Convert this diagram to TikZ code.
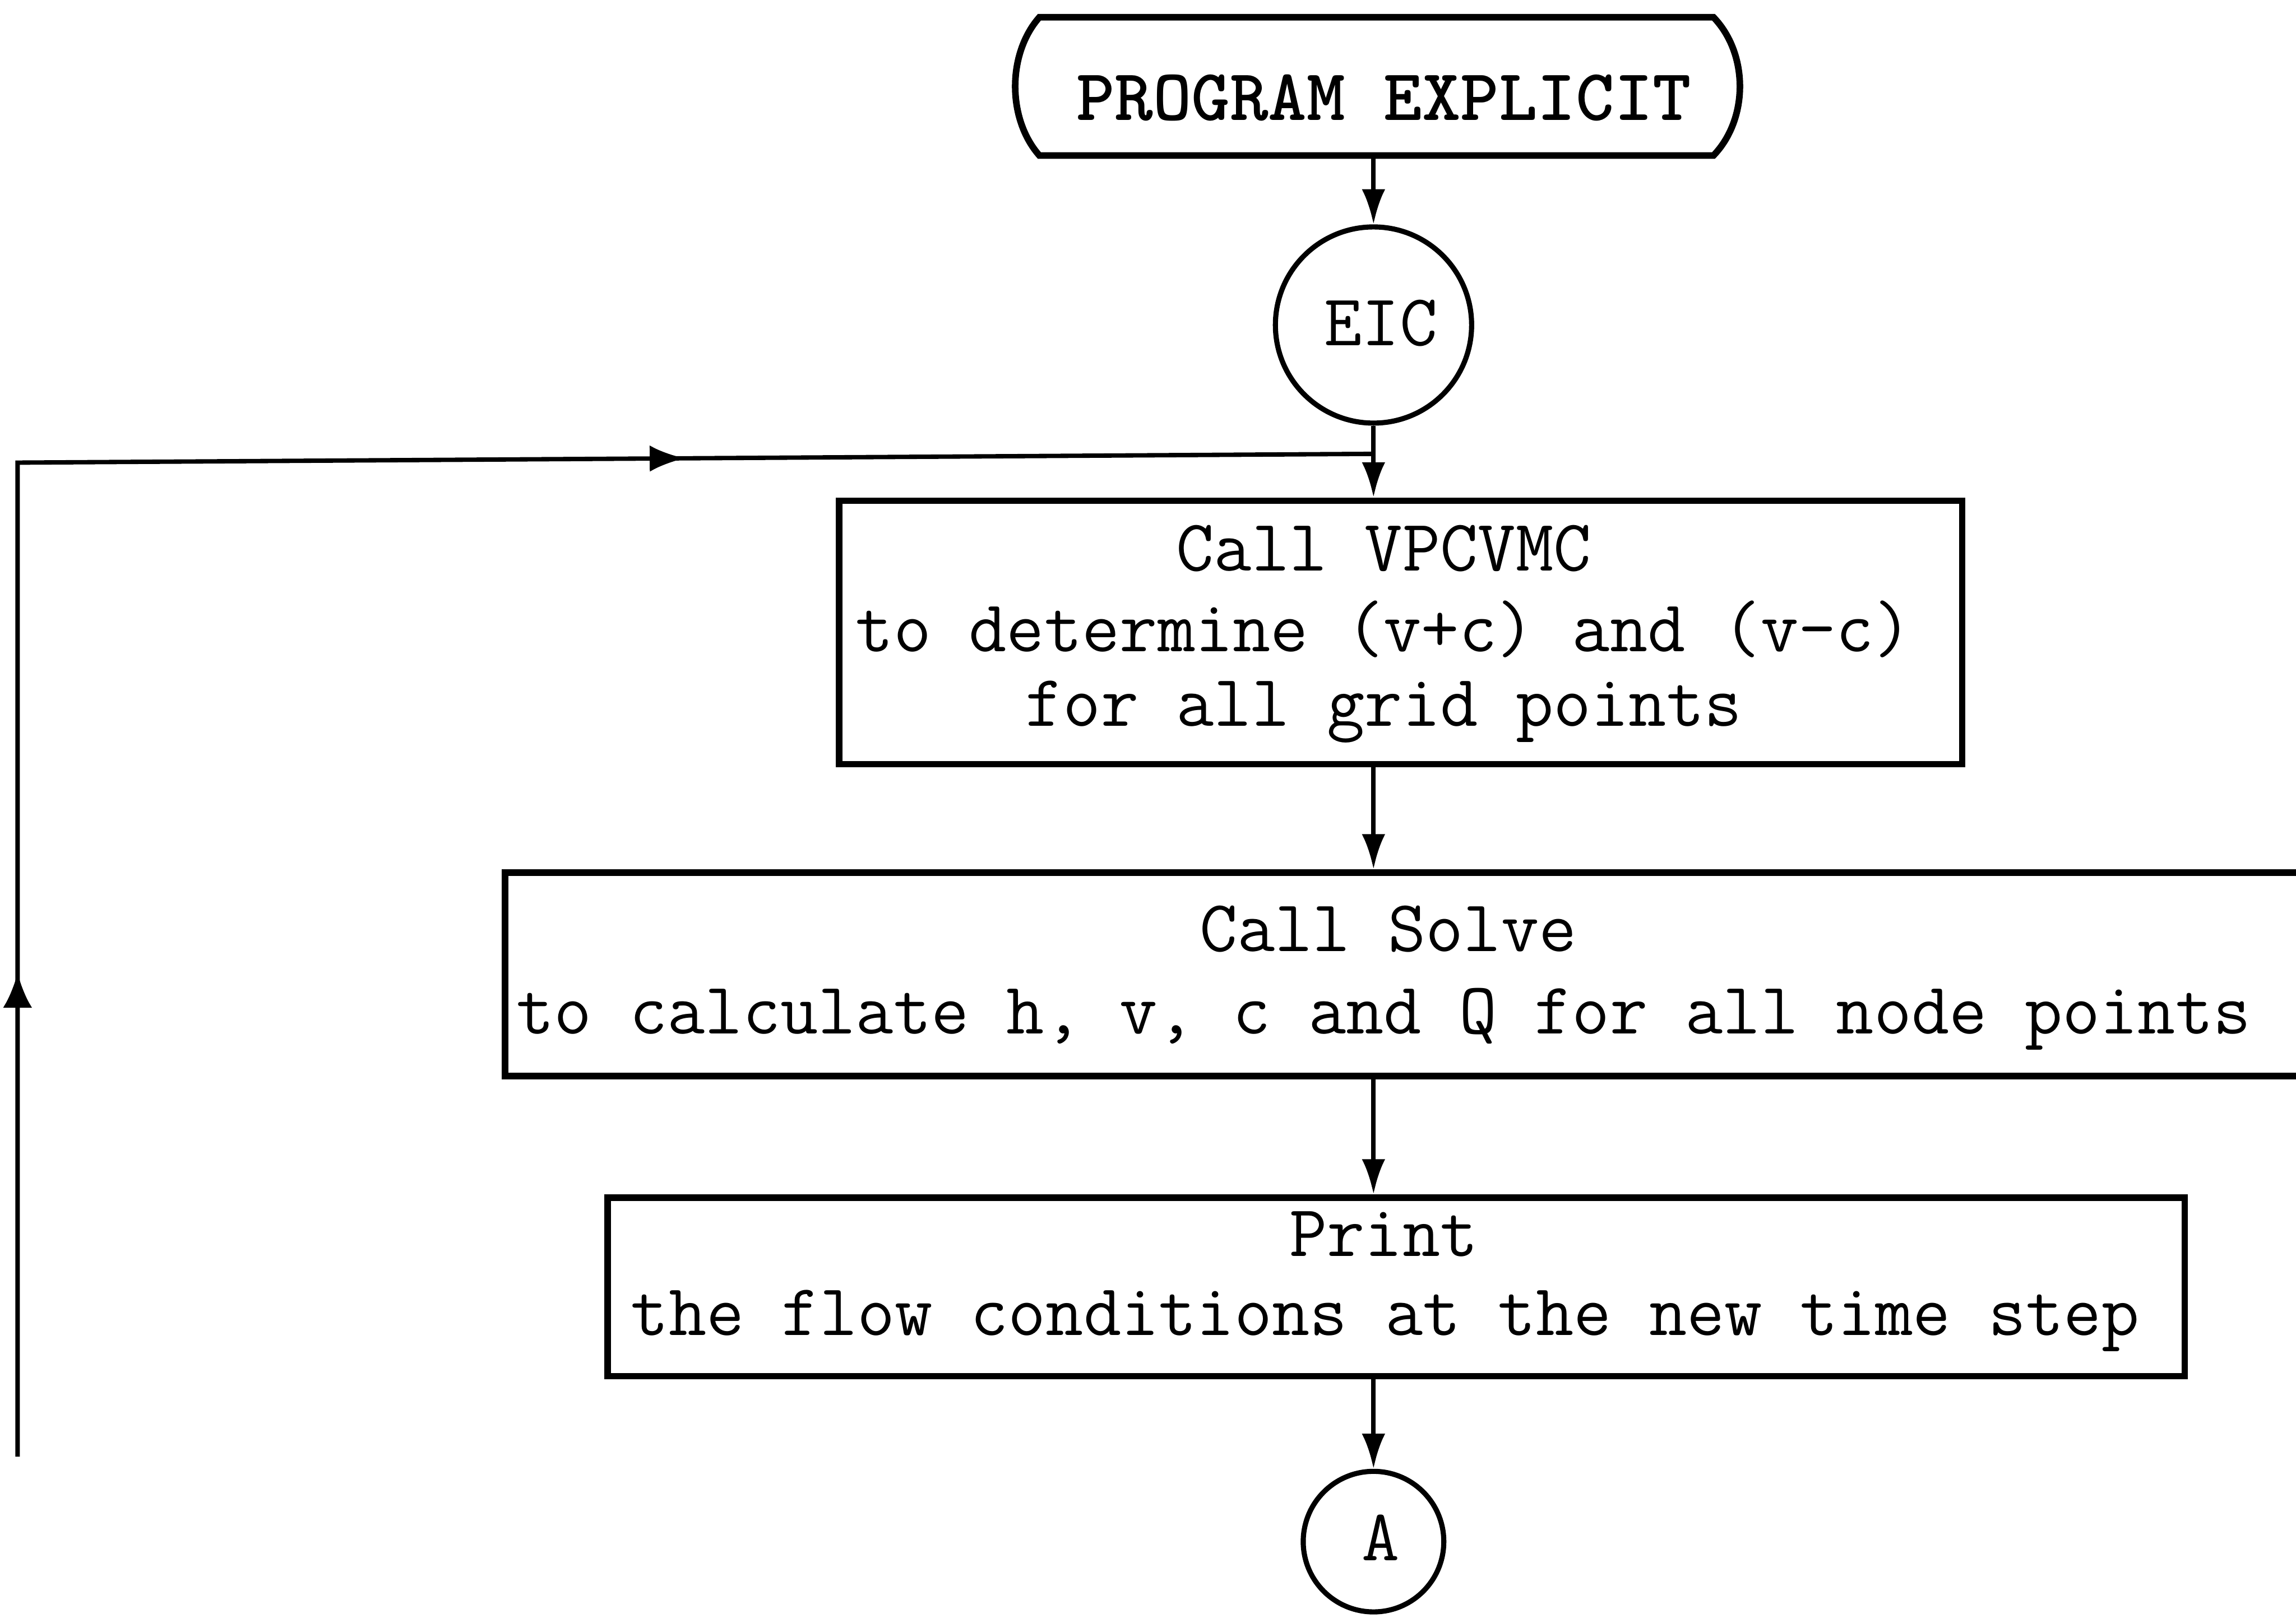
\documentclass[tikz,border=0pt]{standalone}
\usetikzlibrary{arrows.meta,decorations.markings}
\begin{document}
\begin{tikzpicture}[x=1pt,y=1pt,
  boxshape/.style={draw, line width=4.5pt, rectangle, inner sep=0pt},
  circshape/.style={draw, line width=3.5pt, circle, inner sep=0pt},
  txt/.style={font=\ttfamily\fontsize{50}{52}\selectfont, inner sep=0pt, anchor=base},
  conn/.style={line width=3pt},
  arr/.style={conn, -{Latex[length=24pt,width=16pt]}},
]
\useasboundingbox (0,0) rectangle (1568,-1105);
\fill[white] (0,0) rectangle (1568,-1105);

% terminator
\node[minimum width=460pt, minimum height=94pt, inner sep=0pt] (start) at (940,-59) {};
\draw[line width=4.5pt] (start.north west) -- (start.north east)
  .. controls +(24,-25) and +(24,25) .. (start.south east)
  -- (start.south west)
  .. controls +(-22,25) and +(-22,-25) .. (start.north west) -- cycle;
\node[txt, font=\ttfamily\bfseries\fontsize{50}{52}\selectfont] (starttext) at (945,-82) {PROGRAM EXPLICIT};

% EIC connector
\node[circshape, minimum size=134pt] (eic) at (938,-222) {};
\node[txt] (eictext) at (943,-236) {EIC};

% box 1
\node[boxshape, minimum width=767pt, minimum height=180pt] (vpc) at (956.5,-432) {};
\node[txt] (vpc1) at (945,-390) {Call VPCVMC};
\node[txt] (vpc2) at (945,-445) {to determine (v+c) and (v-c)};
\node[txt] (vpc3) at (945,-496) {for all grid points};

% box 2
\node[boxshape, minimum width=1255pt, minimum height=139pt] (solve) at (972.5,-665.5) {};
\node[txt] (solve1) at (948,-650) {Call Solve};
\node[txt] (solve2) at (945,-706) {to calculate h, v, c and Q for all node points};

% box 3
\node[boxshape, minimum width=1077pt, minimum height=122pt] (print) at (953.5,-879) {};
\node[txt] (print1) at (945,-858) {Print};
\node[txt] (print2) at (946,-912) {the flow conditions at the new time step};

% connector A
\node[circshape, minimum size=96pt] (ca) at (938,-1053) {};
\node[txt] (catext) at (943,-1066) {A};

% flow arrows
\draw[arr] (start.south -| eic) -- (eic.north);
\coordinate (join) at (938,-310);
\draw[arr] (eic.south) -- (vpc.north -| eic);
\draw[arr] (vpc.south -| eic) -- (solve.north -| eic);
\draw[arr] (solve.south -| eic) -- (print.north -| eic);
\draw[arr] (print.south -| eic) -- (ca.north);

% loop back line
\coordinate (loopend) at (12,-995);
\coordinate (corner) at (12,-316);
\draw[conn, postaction={decorate}, decoration={markings,
    mark=at position 0.206 with {\arrow{Latex[length=24pt,width=20pt]}},
    mark=at position 0.707 with {\arrow{Latex[length=24pt,width=18pt]}}}]
  (loopend) -- (corner) -- (join);
\end{tikzpicture}
\end{document}
